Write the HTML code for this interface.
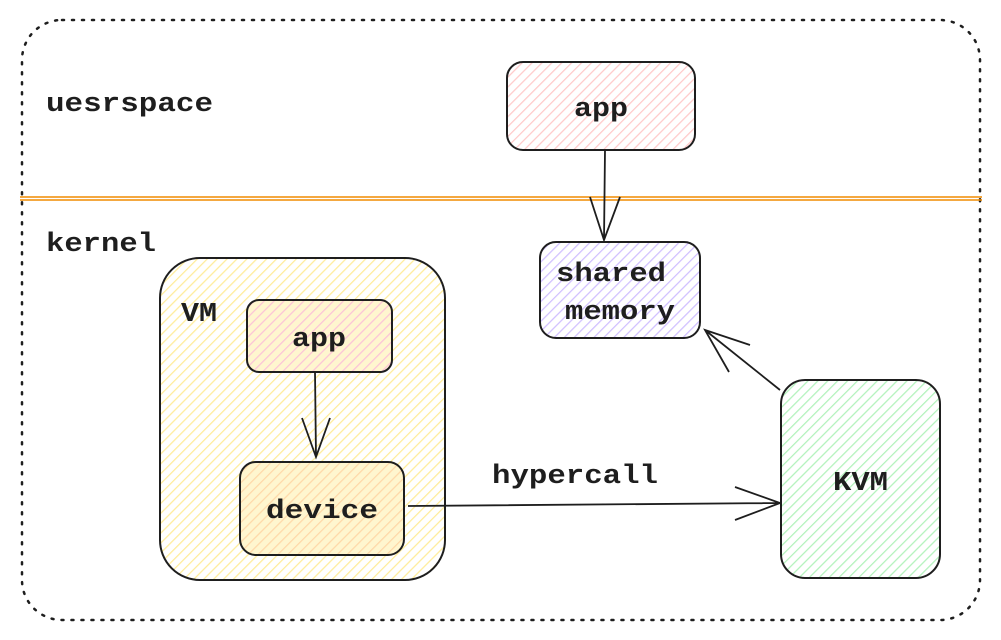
<!DOCTYPE html>
<html><head><meta charset="utf-8"><style>
html,body{margin:0;padding:0;background:#fff;}
svg{display:block}
text{font-family:"Liberation Mono",monospace;font-weight:bold;fill:#1e1e1e}
</style></head><body>
<svg width="1001" height="640" viewBox="0 0 1001 640" xmlns="http://www.w3.org/2000/svg">
<defs>
<pattern id="pk" width="7" height="7" patternUnits="userSpaceOnUse" patternTransform="rotate(45)"><rect width="7" height="7" fill="#fff"/><line x1="0" y1="0" x2="0" y2="7" stroke="#ffc9c9" stroke-width="2.5"/></pattern>
<pattern id="lv" width="7" height="7" patternUnits="userSpaceOnUse" patternTransform="rotate(45)"><rect width="7" height="7" fill="#fff"/><line x1="0" y1="0" x2="0" y2="7" stroke="#d0bfff" stroke-width="2.5"/></pattern>
<pattern id="yl" width="7" height="7" patternUnits="userSpaceOnUse" patternTransform="rotate(45)"><rect width="7" height="7" fill="#fff"/><line x1="0" y1="0" x2="0" y2="7" stroke="#ffec99" stroke-width="2.5"/></pattern>
<pattern id="pk2" width="7" height="7" patternUnits="userSpaceOnUse" patternTransform="rotate(45)"><rect width="7" height="7" fill="#fff6cf"/><line x1="0" y1="0" x2="0" y2="7" stroke="#fcc2d7" stroke-width="2.5"/></pattern>
<pattern id="or" width="7" height="7" patternUnits="userSpaceOnUse" patternTransform="rotate(45)"><rect width="7" height="7" fill="#fff6cf"/><line x1="0" y1="0" x2="0" y2="7" stroke="#ffd8a8" stroke-width="2.5"/></pattern>
<pattern id="gr" width="7" height="7" patternUnits="userSpaceOnUse" patternTransform="rotate(45)"><rect width="7" height="7" fill="#fff"/><line x1="0" y1="0" x2="0" y2="7" stroke="#b2f2bb" stroke-width="2.5"/></pattern>
</defs>
<rect x="22" y="20" width="958" height="600" rx="40" fill="none" stroke="#1e1e1e" stroke-width="2.5" stroke-dasharray="2 8" stroke-linecap="round"/>
<line x1="20" y1="197" x2="982" y2="197" stroke="#f08c00" stroke-width="1.5"/>
<line x1="20" y1="200" x2="982" y2="200" stroke="#f08c00" stroke-width="1.5"/>
<text x="46" y="111" font-size="27" textLength="167" lengthAdjust="spacingAndGlyphs">uesrspace</text>
<text x="46" y="251" font-size="27" textLength="110" lengthAdjust="spacingAndGlyphs">kernel</text>

<rect x="507" y="62" width="188" height="88" rx="16" fill="url(#pk)" stroke="#1e1e1e" stroke-width="2"/>
<text x="574" y="116" font-size="27" textLength="54" lengthAdjust="spacingAndGlyphs">app</text>
<path d="M605 150 L604 240 M590 197 L604 240 L620 197" fill="none" stroke="#1e1e1e" stroke-width="1.8"/>

<rect x="540" y="242" width="160" height="96" rx="16" fill="url(#lv)" stroke="#1e1e1e" stroke-width="2"/>
<text x="556" y="281" font-size="27" textLength="110" lengthAdjust="spacingAndGlyphs">shared</text>
<text x="565" y="319" font-size="27" textLength="110" lengthAdjust="spacingAndGlyphs">memory</text>

<rect x="160" y="258" width="285" height="322" rx="40" fill="url(#yl)" stroke="#1e1e1e" stroke-width="2"/>
<text x="181" y="321" font-size="27" textLength="36" lengthAdjust="spacingAndGlyphs">VM</text>
<rect x="247" y="300" width="145" height="72" rx="12" fill="url(#pk2)" stroke="#1e1e1e" stroke-width="2"/>
<text x="292" y="346" font-size="27" textLength="54" lengthAdjust="spacingAndGlyphs">app</text>
<path d="M315 372 L316 457 M302 418 L316 457 L330 418" fill="none" stroke="#1e1e1e" stroke-width="1.8"/>
<rect x="240" y="462" width="164" height="93" rx="16" fill="url(#or)" stroke="#1e1e1e" stroke-width="2"/>
<text x="266" y="518" font-size="27" textLength="112" lengthAdjust="spacingAndGlyphs">device</text>

<path d="M408 506 L780 503 M735 487 L780 503 L735 520" fill="none" stroke="#1e1e1e" stroke-width="1.8"/>
<text x="492" y="483" font-size="27" textLength="166" lengthAdjust="spacingAndGlyphs">hypercall</text>

<rect x="781" y="380" width="159" height="198" rx="24" fill="url(#gr)" stroke="#1e1e1e" stroke-width="2"/>
<text x="833" y="490" font-size="27" textLength="55" lengthAdjust="spacingAndGlyphs">KVM</text>
<path d="M780 390 L705 330 M750 345 L705 330 L729 372" fill="none" stroke="#1e1e1e" stroke-width="1.8"/>
</svg>
</body></html>
